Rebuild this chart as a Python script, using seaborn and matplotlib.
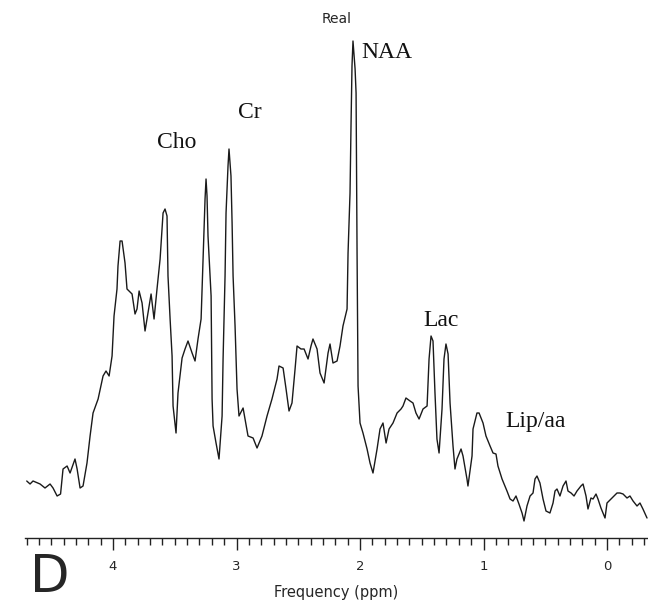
import matplotlib
matplotlib.use("Agg")
import matplotlib.pyplot as plt
import seaborn as sns
import pandas as pd
from matplotlib.ticker import MultipleLocator

# chemical shift (ppm) and signal (arbitrary units)
ppm = [4.699, 4.672, 4.648, 4.591, 4.551, 4.510, 4.486, 4.453, 4.425, 4.405,
       4.372, 4.348, 4.308, 4.291, 4.267, 4.243, 4.211, 4.186, 4.162, 4.121,
       4.081, 4.057, 4.032, 4.008, 3.992, 3.968, 3.960, 3.943, 3.927, 3.903,
       3.887, 3.846, 3.822, 3.806, 3.789, 3.765, 3.741, 3.717, 3.692, 3.668,
       3.644, 3.619, 3.595, 3.579, 3.563, 3.555, 3.538, 3.522, 3.514, 3.490,
       3.474, 3.441, 3.417, 3.393, 3.360, 3.336, 3.312, 3.287, 3.271, 3.263,
       3.255, 3.247, 3.239, 3.231, 3.206, 3.198, 3.190, 3.166, 3.142, 3.117,
       3.109, 3.093, 3.085, 3.069, 3.061, 3.045, 3.036, 3.028, 3.012, 2.996,
       2.980, 2.947, 2.931, 2.907, 2.866, 2.834, 2.794, 2.753, 2.713, 2.672,
       2.656, 2.623, 2.599, 2.575, 2.551, 2.526, 2.510, 2.478, 2.453, 2.421,
       2.397, 2.381, 2.348, 2.324, 2.291, 2.259, 2.243, 2.219, 2.186, 2.162,
       2.138, 2.105, 2.097, 2.081, 2.073, 2.065, 2.057, 2.040, 2.032, 2.024,
       2.016, 2.000, 1.976, 1.943, 1.919, 1.895, 1.862, 1.838, 1.814, 1.789,
       1.765, 1.733, 1.700, 1.668, 1.652, 1.628, 1.595, 1.571, 1.547, 1.522,
       1.490, 1.457, 1.441, 1.425, 1.409, 1.393, 1.377, 1.360, 1.336, 1.320,
       1.304, 1.287, 1.271, 1.247, 1.231, 1.215, 1.182, 1.166, 1.134, 1.126,
       1.093, 1.085, 1.053, 1.036, 1.004, 0.980, 0.947, 0.923, 0.899, 0.883,
       0.850, 0.810, 0.785, 0.761, 0.737, 0.713, 0.688, 0.672, 0.648, 0.623,
       0.599, 0.583, 0.567, 0.543, 0.518, 0.494, 0.462, 0.437, 0.421, 0.405,
       0.381, 0.356, 0.332, 0.316, 0.291, 0.267, 0.243, 0.211, 0.194, 0.170,
       0.154, 0.130, 0.113, 0.089, 0.073, 0.049, 0.016, 0.000, -0.032, -0.057,
       -0.081, -0.105, -0.130, -0.162, -0.186, -0.211, -0.243, -0.267, -0.291, -0.324]

signal = [55, 52, 55, 52, 48, 52, 48, 40, 42, 67,
          70, 63, 77, 67, 48, 50, 73, 100, 123, 137,
          160, 165, 160, 180, 220, 247, 270, 295, 295, 273,
          247, 242, 222, 227, 245, 233, 205, 223, 242, 217,
          247, 277, 323, 327, 320, 260, 217, 180, 130, 103,
          143, 178, 187, 195, 183, 175, 197, 217, 277, 307,
          337, 357, 340, 300, 240, 137, 110, 93, 77, 120,
          177, 260, 323, 370, 387, 360, 313, 260, 210, 147,
          120, 128, 117, 100, 98, 88, 100, 120, 137, 157,
          170, 168, 147, 125, 133, 167, 190, 187, 187, 177,
          190, 197, 187, 163, 153, 183, 192, 173, 175, 190,
          210, 227, 283, 343, 410, 470, 495, 467, 443, 283,
          150, 113, 103, 87, 73, 63, 87, 107, 113, 93,
          107, 113, 123, 127, 130, 138, 135, 133, 123, 117,
          127, 130, 177, 200, 195, 143, 97, 83, 127, 177,
          192, 182, 133, 90, 67, 77, 87, 80, 57, 50,
          80, 107, 123, 123, 113, 100, 90, 83, 82, 70,
          57, 45, 37, 35, 40, 32, 23, 15, 30, 40,
          43, 57, 60, 53, 37, 25, 23, 33, 45, 47,
          40, 50, 55, 45, 43, 40, 45, 50, 52, 40,
          27, 38, 37, 42, 37, 28, 18, 33, 37, 40,
          43, 43, 42, 38, 40, 35, 30, 33, 27, 18]

peak_names = ["Cho", "Cr", "NAA", "Lac", "Lip/aa"]
peak_label_ppm = [3.645, 2.988, 1.988, 1.49, 0.826]
peak_label_signal = [393, 424, 483, 216, 114]

df = pd.DataFrame({"ppm": ppm, "signal": signal})

sns.set_style("white")
plt.rcParams['font.family'] = ['DejaVu Sans']

fig = plt.figure(figsize=(6.48, 6.08), dpi=100)
ax = fig.add_axes([25 / 648, 70 / 608, 623 / 648, 510 / 608])

sns.lineplot(data=df, x="ppm", y="signal", ax=ax, color="#1a1a1a",
             linewidth=1.0, estimator=None, sort=True)

ax.set_xlim(4.713, -0.332)
ax.set_ylim(-2, 508)

for side in ["top", "right", "left"]:
    ax.spines[side].set_visible(False)
ax.spines["bottom"].set_color("#222222")
ax.spines["bottom"].set_linewidth(1.0)

ax.xaxis.set_major_locator(MultipleLocator(1))
ax.xaxis.set_minor_locator(MultipleLocator(0.1))
ax.tick_params(axis="x", which="major", direction="out", length=8.5, width=1,
               color="#222222", labelsize=9.5, pad=7, bottom=True)
ax.tick_params(axis="x", which="minor", direction="out", length=5, width=1,
               color="#222222", bottom=True)
ax.set_xticks([4, 3, 2, 1, 0])
ax.set_xticklabels(["4", "3", "2", "1", "0"])
ax.set_yticks([])
ax.set_ylabel("")
ax.set_xlabel("Frequency (ppm)", fontsize=10.5, labelpad=9)

for name, px, py in zip(peak_names, peak_label_ppm, peak_label_signal):
    ax.text(px, py, name, family="Liberation Serif", fontsize=17,
            ha="left", va="center", color="#111111")

fig.text(337 / 648, 1 - 19 / 608, "Real", fontsize=10, ha="center", va="center")
fig.text(30 / 648, 16 / 608, "D", fontsize=37, ha="left", va="baseline")

fig.savefig("out.png", dpi=100)
